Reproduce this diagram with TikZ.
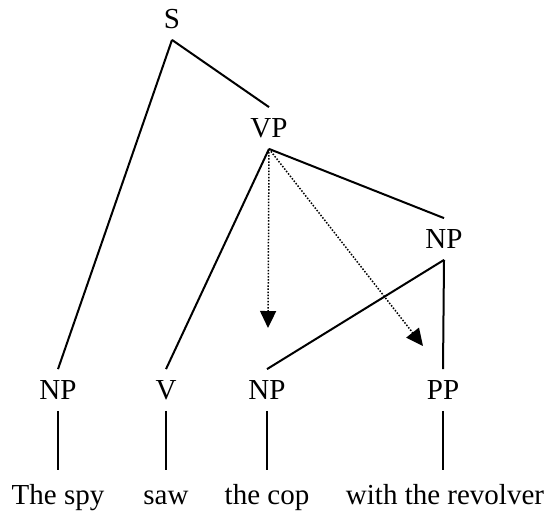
\documentclass[tikz,border=0pt]{standalone}
\usepackage{fontspec}
\setmainfont{Liberation Serif}
\usetikzlibrary{arrows.meta}

\begin{document}
\begin{tikzpicture}[
    x=0.5pt, y=-0.5pt,
    font=\fontsize{14.5}{17}\selectfont,
    cat/.style={inner xsep=2pt, inner ysep=5.5pt, text height=9.5pt, text depth=0pt},
    word/.style={cat, inner ysep=7.5pt},
    branch/.style={line width=1pt},
    move/.style={line width=0.75pt, dash pattern=on 0.75pt off 0.8pt,
                 -{Triangle[length=8.5pt, width=8pt]}}
]
\useasboundingbox (0,0) rectangle (550,516);

% tree labels
\node[cat] (s)   at (172,19)  {S};
\node[cat] (vp)  at (269,128) {VP};
\node[cat] (npo) at (444,239) {NP};
\node[cat] (npa) at (58,390)  {NP};
\node[cat] (v)   at (166,390) {V};
\node[cat] (npb) at (267,390) {NP};
\node[cat] (pp)  at (443,390) {PP};

% words
\node[word] (spy) at (58,494.5)  {The spy};
\node[word] (saw) at (166,494.5) {saw};
\node[word] (cop) at (267,494.5) {the cop};
\node[word] (rev) at (445,494.5) {with the revolver};

% branches
\draw[branch] (s.south) -- (npa.north);
\draw[branch] (s.south) -- (vp.north);
\draw[branch] (vp.south) -- (v.north);
\draw[branch] (vp.south) -- (npo.north);
\draw[branch] (npo.south) -- (npb.north);
\draw[branch] (npo.south) -- (pp.north);
\draw[branch] (npa.south) -- (spy.north);
\draw[branch] (v.south) -- (saw.north);
\draw[branch] (npb.south) -- (cop.north);
\draw[branch] (pp.south) -- (pp.south |- rev.north);

% dotted arrows
\coordinate (tipa) at (268,328);
\coordinate (tipb) at (423,346);
\draw[move] (vp.south) -- (tipa);
\draw[move] (vp.south) -- (tipb);
\end{tikzpicture}
\end{document}
